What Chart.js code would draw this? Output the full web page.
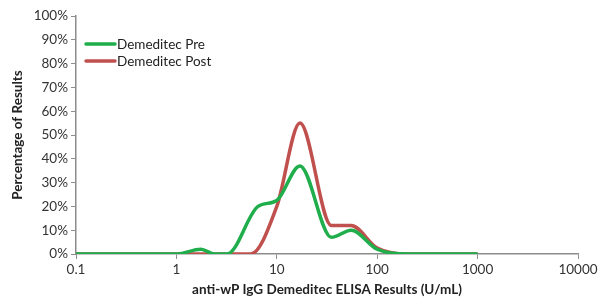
<!DOCTYPE html>
<html>
<head>
<meta charset="utf-8">
<script src="https://cdn.jsdelivr.net/npm/chart.js@4.4.1/dist/chart.umd.min.js"></script>
<style>
  html, body { margin: 0; padding: 0; background: #fff; }
  #wrap { width: 602px; height: 302px; }
</style>
</head>
<body>
<div id="wrap"><canvas id="elisa_chart" width="602" height="302"></canvas></div>
<script>
// values (x in U/mL, y in %)
var preX = [0.1, 1, 1.75, 2.4, 3.2, 6.5, 10, 17, 35, 55, 100, 200, 1000];
var preY = [0, 0, 2, 0, 0, 20, 22.5, 37, 7, 10, 2, 0, 0];
var postX = [0.1, 5.5, 10, 17, 35, 55, 100, 200, 1000];
var postY = [0, 0, 20, 55, 12, 12, 2.5, 0, 0];
var seriesNames = ["Demeditec Pre", "Demeditec Post"];
var xTicks = [0.1, 1, 10, 100, 1000, 10000];
var yTicks = [0, 10, 20, 30, 40, 50, 60, 70, 80, 90, 100];
var xTitle = "anti-wP IgG Demeditec ELISA Results (U/mL)";
var yTitle = "Percentage of Results";

var FONT = "Lato, 'Open Sans', sans-serif";

function toPoints(xs, ys) {
    var pts = [];
    for (var i = 0; i < xs.length; i++) {
        pts.push({x: xs[i], y: ys[i]});
    }
    return pts;
}

// legend drawn inside the plot, top left
var innerLegend = {
    id: 'innerLegend',
    afterDraw: function(chart) {
        var ctx = chart.ctx;
        var area = chart.chartArea;
        ctx.save();
        ctx.font = "13.5px " + FONT;
        ctx.textBaseline = 'middle';
        chart.data.datasets.forEach(function(ds, i) {
            var y = area.top + 28 + i * 17;
            var x0 = area.left + 10;
            ctx.strokeStyle = ds.borderColor;
            ctx.lineWidth = 3.5;
            ctx.lineCap = 'round';
            ctx.beginPath();
            ctx.moveTo(x0, y);
            ctx.lineTo(x0 + 29, y);
            ctx.stroke();
            ctx.fillStyle = '#222';
            ctx.fillText(ds.label, x0 + 31, y + 1);
        });
        ctx.restore();
    }
};

new Chart(document.getElementById("elisa_chart"), {
    type: "line",
    data: {
        datasets: [
            {
                label: seriesNames[0],
                data: toPoints(preX, preY),
                borderColor: '#1fae4b',
                borderWidth: 3.5,
                pointRadius: 0,
                fill: false,
                cubicInterpolationMode: 'monotone'
            },
            {
                label: seriesNames[1],
                data: toPoints(postX, postY),
                borderColor: '#c0504d',
                borderWidth: 3.5,
                pointRadius: 0,
                fill: false,
                cubicInterpolationMode: 'monotone'
            }
        ]
    },
    options: {
        responsive: false,
        animation: false,
        layout: {padding: {top: 16, right: 24, bottom: 4, left: 10}},
        plugins: {
            legend: {display: false},
            tooltip: {enabled: false}
        },
        scales: {
            x: {
                type: 'logarithmic',
                min: 0.1,
                max: 10000,
                afterBuildTicks: function(scale) {
                    scale.ticks = xTicks.map(function(v) { return {value: v}; });
                },
                afterFit: function(scale) { scale.height = 44; },
                grid: {
                    display: true,
                    drawOnChartArea: false,
                    drawTicks: true,
                    tickLength: 5,
                    color: '#8c8c8c'
                },
                border: {color: '#8c8c8c', width: 1.5},
                ticks: {
                    autoSkip: false,
                    maxRotation: 0,
                    color: '#333',
                    font: {family: FONT, size: 13.5},
                    padding: 3,
                    callback: function(v) { return String(v); }
                },
                title: {
                    display: true,
                    text: xTitle,
                    color: '#222',
                    font: {family: FONT, size: 13.5, weight: 'bold'},
                    padding: {top: 6, bottom: 0}
                }
            },
            y: {
                min: 0,
                max: 100,
                afterBuildTicks: function(scale) {
                    scale.ticks = yTicks.map(function(v) { return {value: v}; });
                },
                afterFit: function(scale) { scale.width = 66; },
                grid: {
                    display: true,
                    drawOnChartArea: false,
                    drawTicks: true,
                    tickLength: 5,
                    color: '#8c8c8c'
                },
                border: {color: '#8c8c8c', width: 1.5},
                ticks: {
                    color: '#333',
                    font: {family: FONT, size: 13.5},
                    padding: 3,
                    callback: function(v) { return v + '%'; }
                },
                title: {
                    display: true,
                    text: yTitle,
                    color: '#222',
                    font: {family: FONT, size: 13.5, weight: 'bold'},
                    padding: {top: 0, bottom: 2}
                }
            }
        }
    },
    plugins: [innerLegend]
});
</script>
</body>
</html>
